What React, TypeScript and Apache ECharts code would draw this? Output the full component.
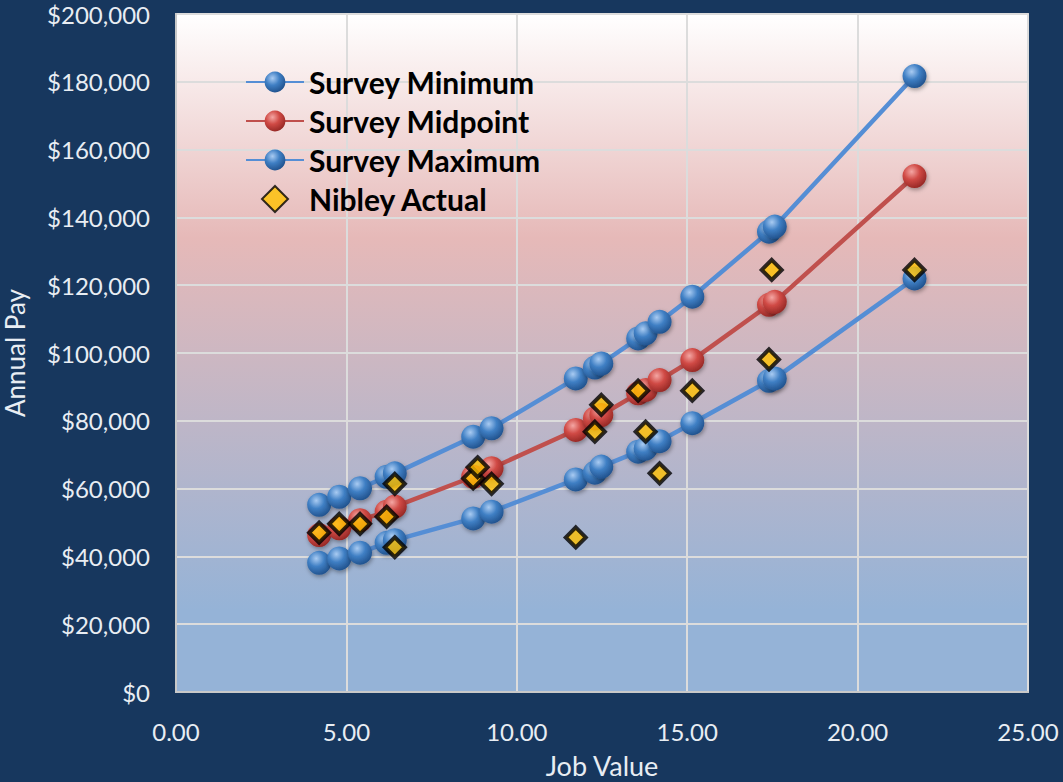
import React, { useEffect, useRef } from "react";
import * as echarts from "echarts";

const jobValues = [4.2, 4.79, 5.4, 6.18, 6.42, 8.72, 9.26, 11.73, 12.29, 12.48, 13.56, 13.78, 14.19, 15.15, 17.4, 17.57, 21.67];
const surveyMin = [38100, 39400, 41100, 44000, 44800, 51200, 53200, 62700, 64700, 66500, 70900, 71800, 74000, 79300, 91800, 92500, 122000];
const surveyMid = [46300, 48300, 50700, 53200, 54700, 63500, 66000, 77300, 80700, 81700, 88100, 89100, 92000, 97900, 114200, 115100, 152200];
const surveyMax = [55200, 57600, 60100, 63500, 64500, 75300, 77800, 92500, 95700, 96900, 104300, 105800, 109200, 116600, 135800, 137300, 181700];
const nibleyX = [4.2, 4.79, 5.4, 6.18, 6.42, 6.42, 8.72, 8.85, 9.26, 11.73, 12.29, 12.48, 13.56, 13.78, 14.19, 15.15, 17.4, 17.48, 21.67];
const nibleyY = [47000, 49600, 49600, 51700, 61400, 42700, 63000, 66300, 61400, 45600, 76800, 84700, 88900, 76800, 64500, 88900, 98100, 124500, 124500];
const seriesNames = ["Survey Minimum", "Survey Midpoint", "Survey Maximum", "Nibley Actual"];

const pairs = (xs: number[], ys: number[]) => xs.map((x, i) => [x, ys[i]]);

const sphere = (light: string, mid: string, dark: string) => ({
  type: "radial",
  x: 0.38,
  y: 0.32,
  r: 0.75,
  colorStops: [
    { offset: 0, color: light },
    { offset: 0.45, color: mid },
    { offset: 1, color: dark },
  ],
});

const blueSphere = sphere("#A9CBF2", "#3F7FC4", "#1D4C86");
const redSphere = sphere("#F4A6A3", "#D04A45", "#8E2421");
const labelColor = "#E8EDF3";

export default function App() {
  const ref = useRef<HTMLDivElement>(null);
  useEffect(() => {
    const chart = echarts.init(ref.current!, undefined, { renderer: "svg" });
    const lineSeries = (name: string, ys: number[], lineColor: string, ball: any) => ({
      name,
      type: "line",
      data: pairs(jobValues, ys),
      symbol: "circle",
      symbolSize: 24,
      lineStyle: { color: lineColor, width: 4.5 },
      itemStyle: {
        color: ball,
        shadowColor: "rgba(0,0,0,0.35)",
        shadowBlur: 4,
        shadowOffsetX: 1,
        shadowOffsetY: 2,
      },
      z: 3,
    });
    chart.setOption({
      animation: false,
      backgroundColor: "#17375E",
      grid: {
        left: 176,
        right: 35,
        top: 14,
        bottom: 90,
        containLabel: false,
        outerBoundsMode: "none",
        show: true,
        borderColor: "#D0D0D0",
        borderWidth: 2,
        backgroundColor: {
          type: "linear",
          x: 0,
          y: 0,
          x2: 0,
          y2: 1,
          colorStops: [
            { offset: 0, color: "#FFFFFF" },
            { offset: 0.33, color: "#E6B9B8" },
            { offset: 0.88, color: "#95B3D7" },
            { offset: 1, color: "#95B3D7" },
          ],
        },
      },
      legend: {
        orient: "vertical",
        left: 245,
        top: 67,
        padding: 0,
        itemWidth: 58,
        itemHeight: 26,
        itemGap: 9,
        data: [
          seriesNames[0],
          seriesNames[1],
          seriesNames[2],
          { name: seriesNames[3], icon: "path://M0,-10L10,0L0,10L-10,0Z" },
        ],
        textStyle: { fontFamily: "Lato", fontWeight: "bold", fontSize: 30, color: "#000" },
      },
      xAxis: {
        type: "value",
        min: 0,
        max: 25,
        interval: 5,
        name: "Job Value",
        nameLocation: "middle",
        nameGap: 60,
        nameTextStyle: { color: labelColor, fontFamily: "Lato", fontSize: 27 },
        axisLine: { show: true, lineStyle: { color: "#C8C8C8", width: 2 } },
        axisTick: { show: false },
        axisLabel: {
          color: labelColor,
          fontFamily: "Lato",
          fontSize: 24,
          margin: 27,
          formatter: (v: number) => v.toFixed(2),
        },
        splitLine: { show: true, lineStyle: { color: "#DCDCDC", width: 2 } },
      },
      yAxis: {
        type: "value",
        min: 0,
        max: 200000,
        interval: 20000,
        name: "Annual Pay",
        nameLocation: "middle",
        nameGap: 148,
        nameTextStyle: { color: labelColor, fontFamily: "Lato", fontSize: 26 },
        axisLine: { show: true, lineStyle: { color: "#C8C8C8", width: 2 } },
        axisTick: { show: false },
        axisLabel: {
          color: labelColor,
          fontFamily: "Lato",
          fontSize: 24,
          margin: 26,
          formatter: (v: number) => "$" + v.toLocaleString("en-US"),
        },
        splitLine: { show: true, lineStyle: { color: "#DCDCDC", width: 2 } },
      },
      series: [
        lineSeries(seriesNames[0], surveyMin, "#558ED5", blueSphere),
        lineSeries(seriesNames[1], surveyMid, "#C0504D", redSphere),
        lineSeries(seriesNames[2], surveyMax, "#558ED5", blueSphere),
        {
          name: seriesNames[3],
          type: "scatter",
          data: pairs(nibleyX, nibleyY),
          symbol: "diamond",
          symbolSize: [20, 20],
          itemStyle: { color: "#FFC000", borderColor: "#000", borderWidth: 4 },
          z: 5,
        },
      ],
    });
    return () => chart.dispose();
  }, []);
  return <div ref={ref} style={{ width: 1063, height: 782, position: "absolute", left: 0, top: 0 }} />;
}
